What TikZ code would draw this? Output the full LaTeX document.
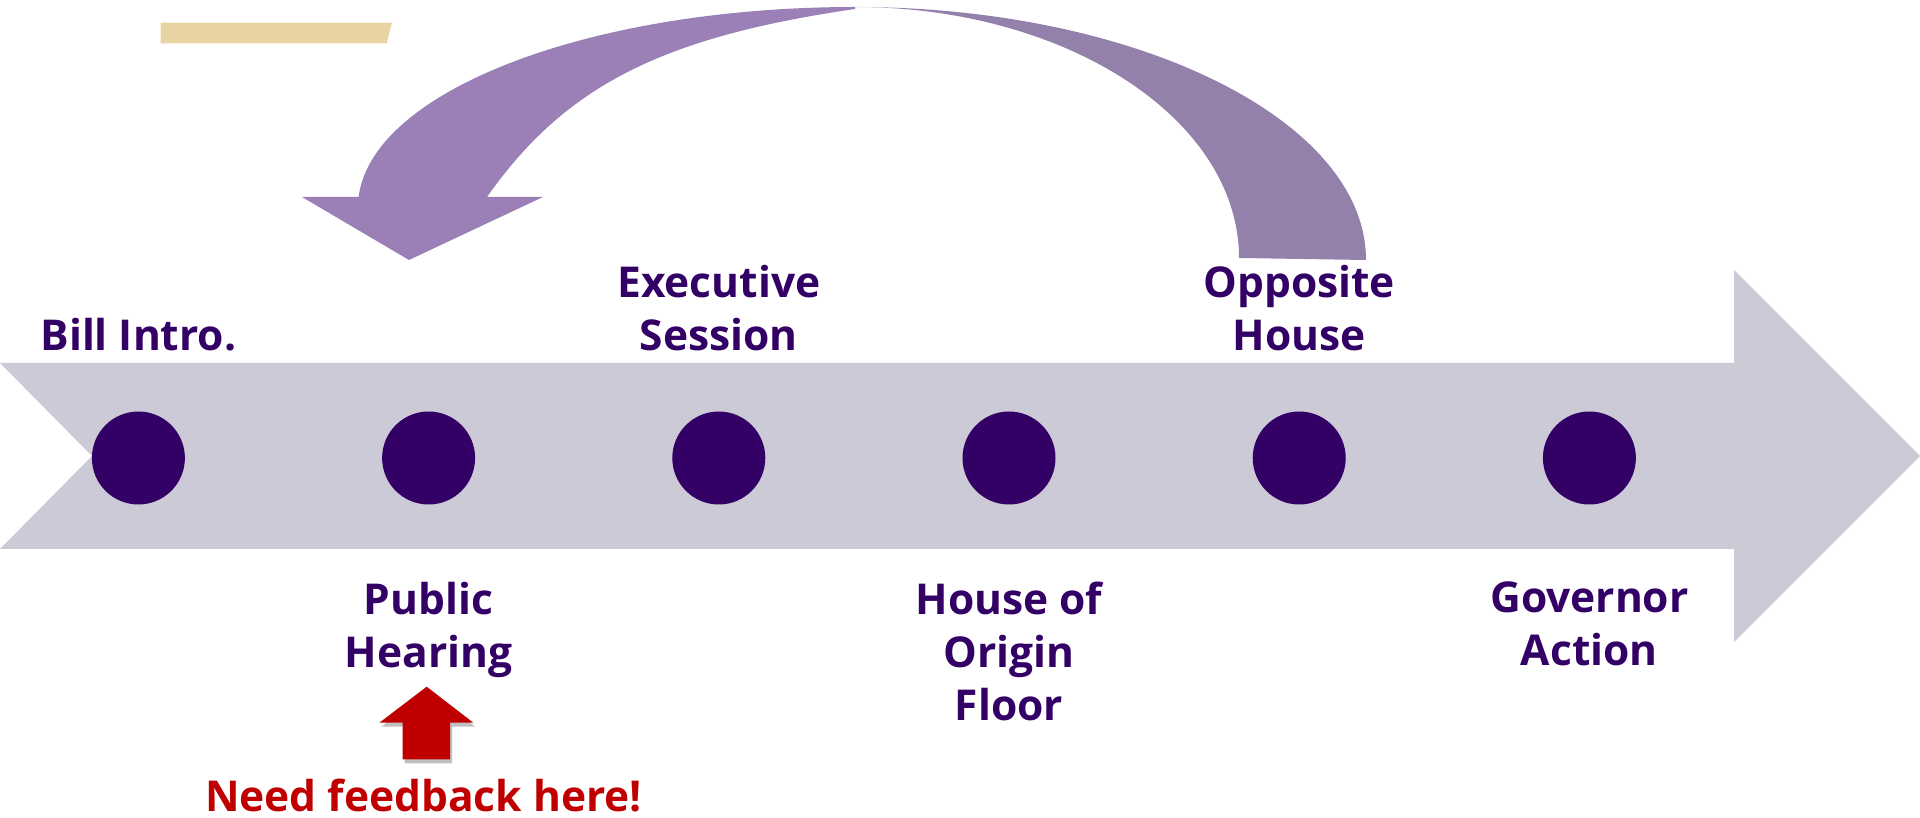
\documentclass[tikz,border=0pt]{standalone}
\usepackage{fontspec}
\setmainfont{Open Sans}
\usepackage{tikz}
\usetikzlibrary{positioning,calc}

\definecolor{trackgray}{HTML}{CCCAD6}
\definecolor{stagepurple}{HTML}{330066}
\definecolor{loopleft}{HTML}{9A80B6}
\definecolor{loopright}{HTML}{9381AC}
\definecolor{alertred}{HTML}{C00000}
\definecolor{accenttan}{HTML}{E8D4A2}

\begin{document}
\begin{tikzpicture}[
    x=1pt, y=1pt,
    stage/.style={circle, fill=stagepurple, minimum size=93pt, inner sep=0pt},
    lbl/.style={font=\bfseries\fontsize{42.5pt}{53pt}\selectfont, text=stagepurple, align=center, inner sep=0pt},
    alert/.style={font=\bfseries\fontsize{42.5pt}{53pt}\selectfont, text=alertred, inner sep=0pt},
]
\useasboundingbox (0,0) rectangle (1920,817);

% Accent bar
\fill[accenttan] (160.7,794.3) -- (392,794.3) -- (386.6,773.7) -- (160.7,773.7) -- cycle;

% Timeline arrow
\fill[trackgray] (0,454) -- (1734,454) -- (1734,547) -- (1920,361) -- (1734,175) -- (1734,268) -- (0,268) -- (92,361) -- cycle;

% Return loop (opposite house back to hearing)
\fill[loopright] (1366,557) arc[start angle=0, end angle=90, x radius=511, y radius=253]
    arc[start angle=90, end angle=0, x radius=384, y radius=251] -- cycle;
\fill[loopleft] (855,810) arc[start angle=90, end angle=177.1, x radius=497, y radius=200]
    -- (302,620) -- (409,557) -- (543,620) -- (487,620)
    .. controls (565,731) and (662,780) .. (855,808) -- cycle;

% Stages
\node[stage] (intro) at (138.4,359) {};
\node[stage, on grid, right=290.2pt of intro] (hearing) {};
\node[stage, on grid, right=290.2pt of hearing] (exec) {};
\node[stage, on grid, right=290.2pt of exec] (floor) {};
\node[stage, on grid, right=290.2pt of floor] (opposite) {};
\node[stage, on grid, right=290.2pt of opposite] (governor) {};

% Labels above the track
\node[lbl, above=60.5pt of intro] (introlbl) {Bill Intro.};
\node[lbl, above=60.5pt of exec] (execlbl) {Executive\\Session};
\node[lbl, above=60.5pt of opposite] (oppositelbl) {Opposite\\House};

% Labels below the track
\node[lbl, below=77pt of hearing] (hearinglbl) {Public\\Hearing};
\node[lbl, below=77pt of floor] (floorlbl) {House of\\Origin\\Floor};
\node[lbl, below=77pt of governor] (governorlbl) {Governor\\Action};

% Feedback marker
\coordinate (fbtip) at (426.7,130.3);
\fill[black, opacity=0.25] ($(fbtip)+(2,-4)$) -- ++(46.6,-36) -- ++(-23.3,0) -- ++(0,-36.6) -- ++(-47.3,0) -- ++(0,36.6) -- ++(-23.3,0) -- cycle;
\fill[alertred] (fbtip) -- ++(46.6,-36) -- ++(-23.3,0) -- ++(0,-36.6) -- ++(-47.3,0) -- ++(0,36.6) -- ++(-23.3,0) -- cycle;
\node[alert, anchor=base] (fbtext) at (423.5,6) {Need feedback here!};

\end{tikzpicture}
\end{document}
